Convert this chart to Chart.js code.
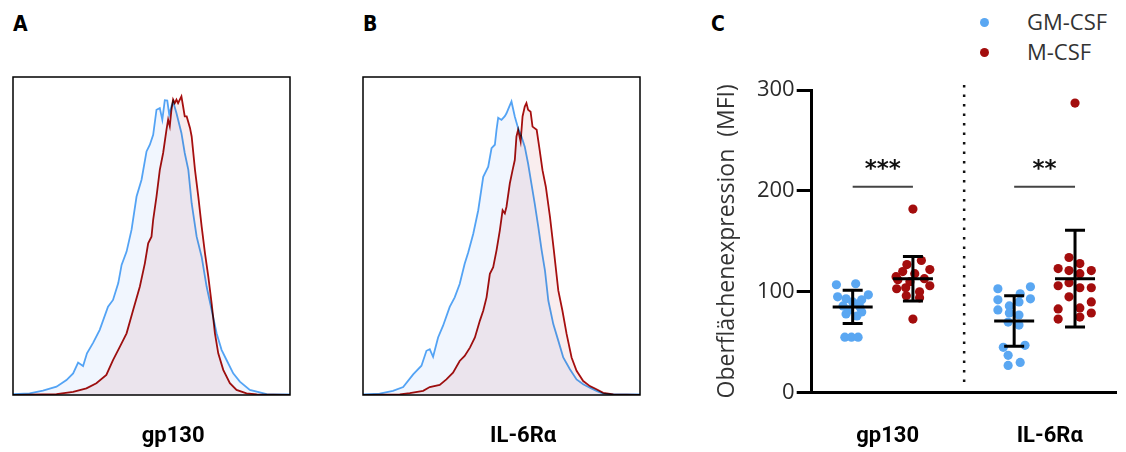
<!DOCTYPE html>
<html>
<head>
<meta charset="utf-8">
<script src="https://cdn.jsdelivr.net/npm/chart.js@4.4.1/dist/chart.umd.min.js"></script>
<style>
  body { margin: 0; background: #fff; width: 1126px; height: 452px; position: relative; overflow: hidden; }
  .box { position: absolute; }
  .letter { position: absolute; font-family: 'DejaVu Sans', sans-serif; font-weight: bold; font-size: 21px; font-stretch: condensed; color: #000; }
  .leg { position: absolute; left: 980px; font: 22px 'Open Sans', sans-serif; color: #333; line-height: 30px; }
  .leg i { display: inline-block; width: 9px; height: 9px; border-radius: 50%; margin-right: 38px; vertical-align: middle; position: relative; top: -2px; }
</style>
</head>
<body>
<div class="letter" style="left:13px;top:12px">A</div>
<div class="letter" style="left:363px;top:12px">B</div>
<div class="letter" style="left:711px;top:12px">C</div>
<div class="leg" id="legend" style="top:6px"></div>
<div class="box" style="left:10px;top:74px;width:283px;height:378px"><canvas id="histA"></canvas></div>
<div class="box" style="left:360px;top:74px;width:283px;height:378px"><canvas id="histB"></canvas></div>
<div class="box" style="left:690px;top:70px;width:436px;height:382px"><canvas id="dots"></canvas></div>
<script>
// marker names and groups
const markers = ['gp130', 'IL-6Rα'];
const groups = ['GM-CSF', 'M-CSF'];

// histograms (relative fluorescence channel 0-100, % of max count)
const gpGmX = [0, 6.0, 10.8, 15.7, 19.3, 21.7, 23.5, 25.3, 26.7, 28.9, 31.3, 34.3, 36.1, 38.0, 39.2, 41.0, 42.8, 44.6, 46.4, 48.2, 49.4, 50.6, 51.8, 53.0, 53.9, 54.8, 55.7, 56.4, 57.2, 57.8, 59.0, 60.8, 62.0, 63.3, 64.5, 66.3, 68.1, 69.9, 71.7, 73.5, 75.3, 77.1, 79.5, 81.9, 85.5, 91.6, 100];
const gpGmY = [0.3, 0.5, 1.4, 2.6, 4.7, 6.8, 10.2, 9.1, 13.1, 16.4, 20.5, 27.8, 29.9, 35.2, 40.9, 45.1, 52.0, 62.4, 67.7, 76.6, 78.7, 81.8, 89.7, 90.2, 86.6, 92.7, 92.6, 88.2, 90.8, 92.3, 88.7, 82.4, 76.1, 70.8, 60.3, 49.8, 43.5, 34.1, 26.8, 19.4, 14.2, 11.0, 6.8, 4.2, 1.6, 0.3, 0.2];
const gpMX = [0, 15.7, 21.7, 26.5, 30.1, 33.7, 36.1, 38.6, 41.0, 43.4, 45.8, 47.6, 48.8, 50.0, 50.6, 51.8, 53.0, 54.2, 55.4, 56.0, 56.6, 57.2, 57.8, 58.4, 59.0, 59.6, 60.8, 61.4, 62.0, 62.7, 63.9, 64.5, 65.7, 66.9, 68.1, 69.3, 70.5, 71.7, 72.9, 74.1, 75.9, 78.3, 80.7, 84.3, 88.0, 100];
const gpMY = [0, 0.3, 1.0, 2.1, 3.7, 6.3, 11.0, 15.2, 19.4, 26.8, 34.1, 41.4, 47.7, 49.8, 55.1, 62.4, 70.8, 76.1, 83.4, 86.6, 84.5, 89.7, 92.9, 91.8, 92.9, 91.8, 93.9, 90.8, 87.6, 87.6, 84.0, 81.3, 70.8, 62.4, 53.0, 44.6, 37.3, 28.9, 19.4, 13.1, 7.9, 3.7, 1.6, 0.5, 0.2, 0];
const il6GmX = [0, 6.0, 10.8, 14.5, 18.1, 21.1, 22.9, 24.1, 25.3, 27.1, 28.9, 31.3, 33.1, 34.9, 36.7, 38.0, 39.8, 41.6, 43.4, 45.2, 46.4, 47.6, 48.2, 48.8, 50.0, 51.2, 51.8, 52.8, 53.6, 54.8, 56.0, 57.2, 58.4, 59.6, 60.8, 62.0, 63.3, 64.5, 65.7, 66.9, 68.7, 70.5, 72.3, 74.7, 77.1, 79.5, 81.9, 84.3, 86.7, 90.4, 100];
const il6GmY = [0.2, 0.4, 1.3, 2.5, 6.5, 9.2, 13.9, 14.4, 12.0, 18.1, 21.8, 27.7, 30.7, 34.9, 41.3, 44.9, 50.7, 58.1, 68.6, 71.8, 77.6, 78.7, 83.4, 87.2, 86.5, 87.7, 88.6, 90.7, 92.3, 87.6, 83.9, 81.3, 78.1, 72.8, 66.5, 60.2, 52.8, 45.5, 39.1, 29.7, 22.3, 17.1, 11.8, 8.1, 4.9, 3.4, 2.3, 1.3, 0.4, 0.2, 0.2];
const il6MX = [0, 13.3, 16.9, 21.7, 24.1, 27.7, 30.1, 32.5, 34.9, 36.7, 38.6, 40.4, 42.2, 43.4, 44.6, 45.8, 47.0, 48.2, 49.4, 50.4, 51.2, 51.8, 53.0, 54.0, 54.8, 55.4, 56.0, 56.9, 57.6, 58.4, 59.0, 59.6, 60.5, 61.2, 62.7, 63.6, 64.8, 66.0, 67.5, 68.9, 70.5, 72.0, 73.5, 75.3, 77.1, 79.5, 81.9, 84.3, 86.7, 90.4, 100];
const il6MY = [0, 0.2, 0.6, 1.3, 2.5, 3.2, 4.9, 7.0, 10.7, 12.3, 14.9, 18.1, 23.4, 26.5, 30.7, 38.1, 40.2, 45.5, 51.8, 58.1, 57.1, 59.2, 66.5, 70.7, 73.9, 81.3, 83.4, 79.7, 87.6, 90.7, 91.8, 89.7, 89.1, 84.4, 83.4, 78.1, 70.7, 65.5, 56.0, 45.5, 32.9, 26.5, 19.2, 11.8, 7.6, 4.4, 2.8, 1.8, 0.7, 0.2, 0];

// surface expression (MFI) per donor, with horizontal scatter offsets
const gmGp130 = [107, 108, 97, 95, 93, 92, 90, 88, 86, 85, 82, 80, 78, 76, 55, 55, 55];
const gmGp130Jit = [-0.27, 0.05, 0.26, -0.25, -0.11, 0.15, 0.0, 0.09, -0.16, 0.12, -0.06, 0.15, -0.11, 0.07, -0.13, -0.02, 0.09];
const mGp130 = [182, 131, 127, 122, 120, 118, 115, 113, 112, 110, 106, 104, 103, 100, 96, 94, 73];
const mGp130Jit = [0, 0.14, -0.1, 0.28, -0.17, 0.03, -0.28, 0.19, -0.25, -0.05, 0.28, -0.12, -0.27, 0.11, -0.11, 0.11, 0];
const gmIl6 = [105, 103, 98, 93, 92, 90, 86, 82, 79, 77, 70, 67, 47, 45, 37, 30, 27];
const gmIl6Jit = [0.27, -0.27, 0.1, 0.27, -0.27, 0.08, -0.08, -0.27, -0.08, 0.08, -0.1, 0.08, 0.18, -0.18, -0.1, 0.1, -0.1];
const mIl6 = [287, 134, 128, 123, 121, 121, 118, 109, 106, 104, 104, 95, 90, 84, 83, 79, 75, 73];
const mIl6Jit = [0, -0.1, 0.08, -0.28, -0.1, 0.27, 0.08, -0.1, -0.28, 0.08, 0.27, -0.1, 0.27, 0.08, -0.28, 0.27, 0.08, -0.28];

// mean and SD per column: GM gp130, M gp130, GM IL-6Ra, M IL-6Ra
const means = [85, 113, 71, 113];
const sds = [16.5, 22, 25, 48];
const stars = ['***', '**'];

const BLUE = '#5aa7f2';
const RED = '#a30d0d';
const BLUE_LINE = '#55a6f5';
const RED_LINE = '#a80f0f';
const BLUE_FILL = 'rgb(241,246,254)';
const RED_FILL = 'rgb(249,237,238)';
const labelFont = { family: 'Roboto', size: 22, weight: 'bold' };

document.getElementById('legend').innerHTML =
  '<div><i style="background:' + BLUE + '"></i>' + groups[0] + '</div>' +
  '<div><i style="background:' + RED + '"></i>' + groups[1] + '</div>';

const multiplyFill = {
  id: 'multiplyFill',
  beforeDatasetsDraw(chart) { chart.ctx.save(); chart.ctx.globalCompositeOperation = 'multiply'; },
  afterDatasetsDraw(chart) { chart.ctx.restore(); }
};
const frameBox = {
  id: 'frameBox',
  afterDraw(chart) {
    const a = chart.chartArea, ctx = chart.ctx;
    ctx.save();
    ctx.strokeStyle = '#000';
    ctx.lineWidth = 1.5;
    ctx.strokeRect(a.left, a.top, a.right - a.left, a.bottom - a.top);
    ctx.restore();
  }
};

function pts(xs, ys) { return xs.map((x, i) => ({ x: x, y: ys[i] })); }

const histLabelAt = 57.8;

function histChart(id, title, gmX, gmY, mX, mY) {
  return new Chart(document.getElementById(id), {
    type: 'line',
    data: {
      datasets: [
        { label: groups[1], data: pts(mX, mY), borderColor: RED_LINE, backgroundColor: RED_FILL, fill: 'origin', borderWidth: 1.8, pointRadius: 0, tension: 0 },
        { label: groups[0], data: pts(gmX, gmY), borderColor: BLUE_LINE, backgroundColor: BLUE_FILL, fill: 'origin', borderWidth: 1.8, pointRadius: 0, tension: 0 }
      ]
    },
    options: {
      animation: false,
      responsive: true,
      maintainAspectRatio: false,
      layout: { padding: { top: 3, left: 3, right: 3, bottom: 0 } },
      plugins: { legend: { display: false }, tooltip: { enabled: false } },
      scales: {
        x: {
          type: 'linear', min: 0, max: 100,
          afterBuildTicks(s) { s.ticks = [{ value: histLabelAt }]; },
          ticks: { callback: () => title, color: '#000', font: labelFont, padding: 28, maxRotation: 0 },
          grid: { display: false, drawTicks: false }, border: { display: false },
          afterFit(s) { s.height = 57; }
        },
        y: { display: false, min: 0, max: 100 }
      }
    },
    plugins: [multiplyFill, frameBox]
  });
}

histChart('histA', markers[0], gpGmX, gpGmY, gpMX, gpMY);
histChart('histB', markers[1], il6GmX, il6GmY, il6MX, il6MY);

// panel C
const colPos = [1, 2, 3.68, 4.69];
const tickPos = [1.58, 4.27];
const divider = 2.85;

function col(vals, jit, pos) { return vals.map((v, i) => ({ x: pos + jit[i], y: v })); }

const errorBars = {
  id: 'errorBars',
  afterDatasetsDraw(chart) {
    const ctx = chart.ctx, xs = chart.scales.x, ys = chart.scales.y;
    ctx.save();
    // divider
    ctx.strokeStyle = '#111';
    ctx.lineWidth = 2.5;
    ctx.setLineDash([2.5, 7]);
    ctx.beginPath();
    ctx.moveTo(xs.getPixelForValue(divider), ys.getPixelForValue(305));
    ctx.lineTo(xs.getPixelForValue(divider), ys.getPixelForValue(6));
    ctx.stroke();
    ctx.setLineDash([]);
    // mean +- SD
    ctx.strokeStyle = '#000';
    ctx.lineWidth = 3;
    colPos.forEach((p, i) => {
      const x = xs.getPixelForValue(p);
      const yt = ys.getPixelForValue(means[i] + sds[i]);
      const yb = ys.getPixelForValue(means[i] - sds[i]);
      const ym = ys.getPixelForValue(means[i]);
      ctx.beginPath();
      ctx.moveTo(x, yt); ctx.lineTo(x, yb);
      ctx.moveTo(x - 10, yt); ctx.lineTo(x + 10, yt);
      ctx.moveTo(x - 10, yb); ctx.lineTo(x + 10, yb);
      ctx.moveTo(x - 20, ym); ctx.lineTo(x + 20, ym);
      ctx.stroke();
    });
    // significance
    ctx.strokeStyle = '#444';
    ctx.lineWidth = 2;
    ctx.fillStyle = '#111';
    ctx.font = 'bold 23px DejaVu Sans';
    ctx.textAlign = 'center';
    ctx.textBaseline = 'middle';
    stars.forEach((s, k) => {
      const x1 = xs.getPixelForValue(colPos[2 * k]), x2 = xs.getPixelForValue(colPos[2 * k + 1]);
      const yl = ys.getPixelForValue(204);
      ctx.beginPath(); ctx.moveTo(x1, yl); ctx.lineTo(x2, yl); ctx.stroke();
      ctx.fillText(s, (x1 + x2) / 2, ys.getPixelForValue(221));
    });
    ctx.restore();
  }
};

new Chart(document.getElementById('dots'), {
  type: 'scatter',
  data: {
    datasets: [
      { label: groups[0], data: col(gmGp130, gmGp130Jit, colPos[0]).concat(col(gmIl6, gmIl6Jit, colPos[2])), backgroundColor: BLUE, borderWidth: 0, pointRadius: 4.6 },
      { label: groups[1], data: col(mGp130, mGp130Jit, colPos[1]).concat(col(mIl6, mIl6Jit, colPos[3])), backgroundColor: RED, borderWidth: 0, pointRadius: 4.6 }
    ]
  },
  options: {
    animation: false,
    responsive: true,
    maintainAspectRatio: false,
    layout: { padding: { top: 20, right: 10, left: 0, bottom: 0 } },
    plugins: { legend: { display: false }, tooltip: { enabled: false } },
    scales: {
      x: {
        type: 'linear', min: 0.32, max: 5.37,
        afterBuildTicks(s) { s.ticks = tickPos.map(v => ({ value: v })); },
        ticks: { callback: v => markers[tickPos.indexOf(v)], color: '#000', font: labelFont, padding: 31, maxRotation: 0 },
        grid: { drawOnChartArea: false, drawTicks: false },
        border: { color: '#000', width: 3 },
        afterFit(s) { s.height = 59.3; }
      },
      y: {
        min: 0, max: 300,
        ticks: { stepSize: 100, color: '#2a2a2a', font: { family: 'Open Sans', size: 22 }, padding: 2 },
        grid: { drawOnChartArea: false, drawTicks: true, tickLength: 15, tickWidth: 3, tickColor: '#000' },
        border: { color: '#000', width: 3 },
        title: { display: true, text: 'Oberflächenexpression  (MFI)', color: '#333', font: { family: 'Open Sans', size: 23 }, padding: { top: 24, bottom: 0 } },
        afterFit(s) { s.width = 121.7; }
      }
    }
  },
  plugins: [errorBars]
});
</script>
</body>
</html>
